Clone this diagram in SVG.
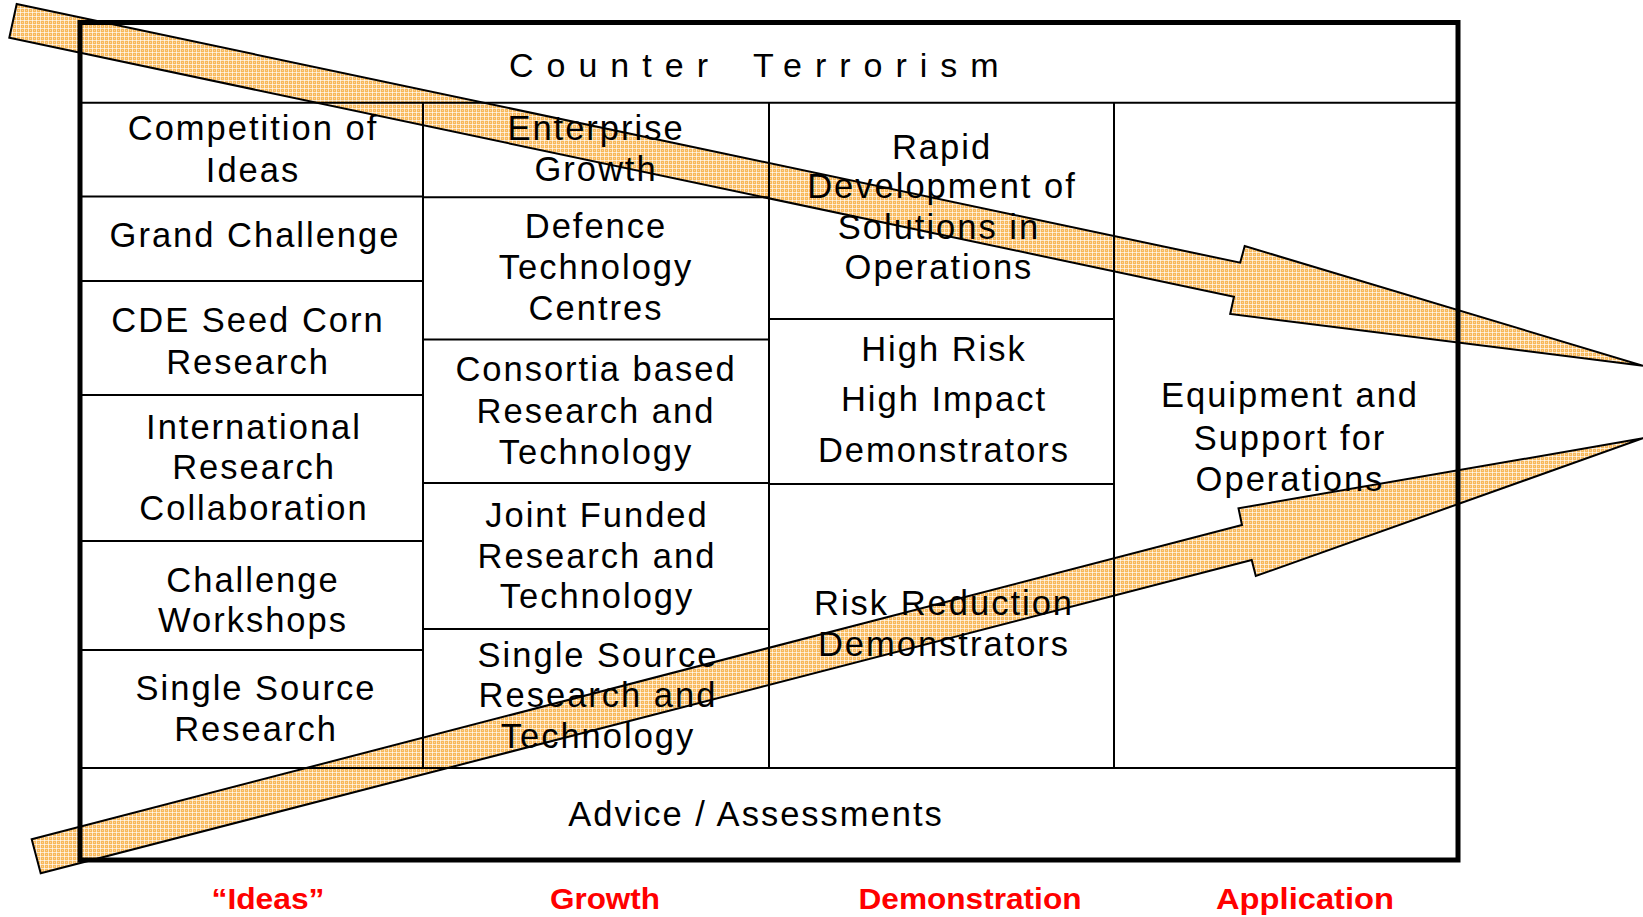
<svg xmlns="http://www.w3.org/2000/svg" width="1643" height="917" viewBox="0 0 1643 917">
<style>
.t{font-family:"Liberation Sans",Arial,sans-serif;font-size:34.5px;letter-spacing:2px;fill:#000;text-anchor:middle}
.h{font-family:"Liberation Sans",Arial,sans-serif;font-size:34px;letter-spacing:13px;fill:#000}
.r{font-family:"Liberation Sans",Arial,sans-serif;font-size:30px;font-weight:bold;fill:#FF0000;text-anchor:middle}
.ln{stroke:#000;stroke-width:2;fill:none}
.arrow{fill:url(#grid);stroke:#000;stroke-width:2;stroke-linejoin:miter}
</style>
<defs>
<pattern id="grid" width="4" height="4" patternUnits="userSpaceOnUse">
<rect width="4" height="4" fill="#F8B85A"/>
<rect x="0" y="0" width="4" height="1" fill="#FFFFFF" opacity="0.65"/>
<rect x="0" y="0" width="1" height="4" fill="#FFFFFF" opacity="0.65"/>
<rect x="2" y="2" width="1" height="1" fill="#FFFFFF" opacity="0.4"/>
</pattern>
</defs>
<rect width="1643" height="917" fill="#FFFFFF"/>
<g id="connectors">
<polygon class="arrow" points="16.7,4 1240.2,262.7 1244.7,246 1643,365.7 1230.2,314 1234,296.7 9.3,37.7"/>
<polygon class="arrow" points="40.7,873.3 1251.7,560 1255.8,576 1643,438.3 1238.5,508.3 1242,525 31.7,839.3"/>
</g>
<g id="table">
<rect x="80" y="22.5" width="1378" height="837.5" fill="none" stroke="#000" stroke-width="5"/>
<line class="ln" x1="80" y1="102.7" x2="1458" y2="102.7"/>
<line class="ln" x1="80" y1="768" x2="1458" y2="768"/>
<line class="ln" x1="423" y1="102.7" x2="423" y2="768"/>
<line class="ln" x1="769" y1="102.7" x2="769" y2="768"/>
<line class="ln" x1="1114" y1="102.7" x2="1114" y2="768"/>
<line class="ln" x1="80" y1="196.5" x2="423" y2="196.5"/>
<line class="ln" x1="80" y1="281" x2="423" y2="281"/>
<line class="ln" x1="80" y1="395" x2="423" y2="395"/>
<line class="ln" x1="80" y1="541" x2="423" y2="541"/>
<line class="ln" x1="80" y1="650" x2="423" y2="650"/>
<line class="ln" x1="423" y1="197.3" x2="769" y2="197.3"/>
<line class="ln" x1="423" y1="339.5" x2="769" y2="339.5"/>
<line class="ln" x1="423" y1="483" x2="769" y2="483"/>
<line class="ln" x1="423" y1="629" x2="769" y2="629"/>
<line class="ln" x1="769" y1="319" x2="1114" y2="319"/>
<line class="ln" x1="769" y1="484" x2="1114" y2="484"/>
</g>
<g id="header"><text class="h" x="509" y="77">Counter</text><text class="h" x="753" y="77">Terrorism</text></g>
<g id="competition-of-ideas"><text class="t" x="253" y="139.5">Competition of</text><text class="t" x="253" y="181.5">Ideas</text></g>
<g id="grand-challenge"><text class="t" x="255" y="247">Grand Challenge</text></g>
<g id="cde-seed-corn"><text class="t" x="248" y="331.5">CDE Seed Corn</text><text class="t" x="248" y="373.5">Research</text></g>
<g id="international"><text class="t" x="254" y="438.5">International</text><text class="t" x="254" y="478.5">Research</text><text class="t" x="254" y="520">Collaboration</text></g>
<g id="challenge-workshops"><text class="t" x="253" y="591.5">Challenge</text><text class="t" x="253" y="632">Workshops</text></g>
<g id="single-source-research"><text class="t" x="256" y="699.5">Single Source</text><text class="t" x="256" y="740.5">Research</text></g>
<g id="enterprise-growth"><text class="t" x="596" y="139.5">Enterprise</text><text class="t" x="596" y="181">Growth</text></g>
<g id="dtc"><text class="t" x="596" y="237.5">Defence</text><text class="t" x="596" y="279">Technology</text><text class="t" x="596" y="320">Centres</text></g>
<g id="consortia"><text class="t" x="596" y="381">Consortia based</text><text class="t" x="596" y="422.5">Research and</text><text class="t" x="596" y="463.5">Technology</text></g>
<g id="joint-funded"><text class="t" x="597" y="526.5">Joint Funded</text><text class="t" x="597" y="567.5">Research and</text><text class="t" x="597" y="608">Technology</text></g>
<g id="single-source-rt"><text class="t" x="598" y="666.5">Single Source</text><text class="t" x="598" y="707">Research and</text><text class="t" x="598" y="747.5">Technology</text></g>
<g id="rapid-development"><text class="t" x="942" y="158.5">Rapid</text><text class="t" x="942" y="197.5">Development of</text><text class="t" x="939" y="238.5">Solutions in</text><text class="t" x="939" y="278.5">Operations</text></g>
<g id="high-risk"><text class="t" x="944" y="361">High Risk</text><text class="t" x="944" y="411">High Impact</text><text class="t" x="944" y="461.5">Demonstrators</text></g>
<g id="risk-reduction"><text class="t" x="944" y="614.5">Risk Reduction</text><text class="t" x="944" y="656">Demonstrators</text></g>
<g id="equipment-support"><text class="t" x="1290" y="407">Equipment and</text><text class="t" x="1290" y="449.5">Support for</text><text class="t" x="1290" y="491">Operations</text></g>
<g id="advice"><text class="t" x="756" y="825.5">Advice / Assessments</text></g>
<g id="phase-labels">
<text class="r" x="268" y="909" textLength="113" lengthAdjust="spacingAndGlyphs">“Ideas”</text>
<text class="r" x="605" y="909" textLength="110" lengthAdjust="spacingAndGlyphs">Growth</text>
<text class="r" x="970" y="909" textLength="223" lengthAdjust="spacingAndGlyphs">Demonstration</text>
<text class="r" x="1305" y="909" textLength="178" lengthAdjust="spacingAndGlyphs">Application</text>
</g>
</svg>
